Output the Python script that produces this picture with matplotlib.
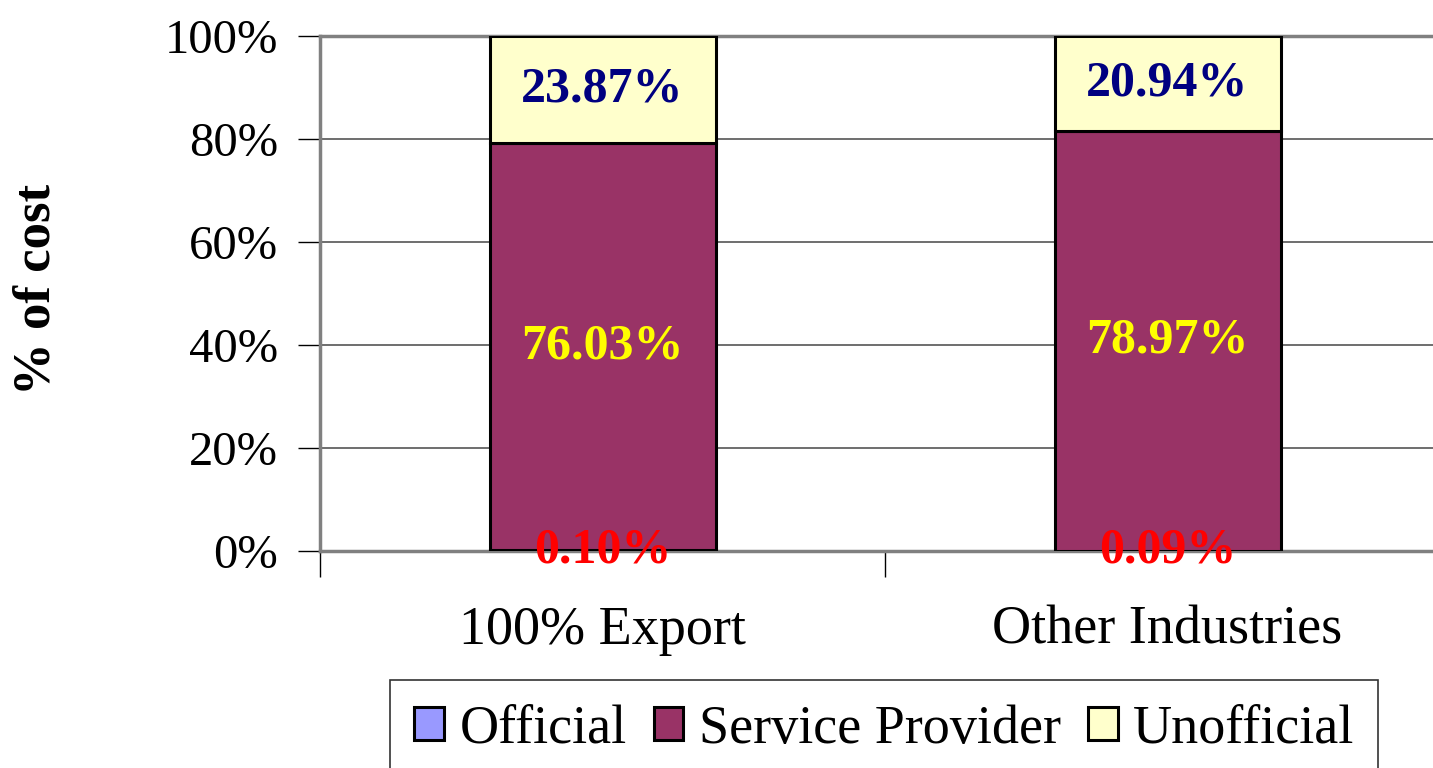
import matplotlib
matplotlib.use('Agg')
import matplotlib.pyplot as plt
import numpy as np

categories = ['100% Export', 'Other Industries']
series_names = ['Official', 'Service Provider', 'Unofficial']

# segment heights as drawn in the chart (percent)
official = [0.10, 0.09]
service = [79.1, 81.4]
unofficial = [20.8, 18.5]

# values printed on the segments
official_lbl = [0.10, 0.09]
service_lbl = [76.03, 78.97]
unofficial_lbl = [23.87, 20.94]

colors = ['#9999FF', '#993366', '#FFFFCC']
label_colors = ['#FF0000', '#FFFF00', '#000080']

plt.rcParams['font.family'] = ['Liberation Serif', 'DejaVu Serif']

fig = plt.figure(figsize=(14.33, 7.68), dpi=100)
ax = fig.add_axes([320 / 1433, 1 - 551 / 768, 1130 / 1433, 515 / 768])

x = np.arange(len(categories))
w = 0.40
bottom = np.zeros(len(categories))
series = [official, service, unofficial]
labels = [official_lbl, service_lbl, unofficial_lbl]
for vals, lbls, name, c, lc in zip(series, labels, series_names, colors, label_colors):
    vals = np.array(vals)
    ax.bar(x, vals, w, bottom=bottom, color=c, edgecolor='black', linewidth=2.2,
           label=name, zorder=3)
    for xi, b, v, l in zip(x, bottom, vals, lbls):
        ax.text(xi, b + v / 2, f'{l:.2f}%', ha='center', va='center', color=lc,
                fontsize=36, fontweight='bold', zorder=4)
    bottom = bottom + vals

ax.set_xlim(-0.5, 1.5)
ax.set_ylim(0, 100)
ax.set_yticks(np.arange(0, 101, 20))
ax.set_yticklabels([f'{v}%' for v in range(0, 101, 20)], fontsize=35)
ax.set_xticks([-0.5, 0.5, 1.5])
ax.set_xticklabels([])
ax.set_xticks(x, minor=True)
ax.set_xticklabels(categories, minor=True, fontsize=39)
ax.tick_params(axis='x', which='minor', length=0, pad=39)
ax.tick_params(axis='x', which='major', length=19, width=1, color='black')
ax.tick_params(axis='y', length=16, width=1, pad=14, color='black')

ax.grid(axis='y', color='#555555', linewidth=1.2, zorder=0)
for s in ['left', 'bottom', 'top']:
    ax.spines[s].set_color('#808080')
    ax.spines[s].set_linewidth(2.5)
ax.spines['right'].set_visible(False)

ax.set_ylabel('% of cost', fontsize=38, fontweight='bold', va='center')
ax.yaxis.set_label_coords(-283 / 1130, 0.507)

leg = fig.legend(loc='upper left', bbox_to_anchor=(390 / 1433, 1 - 680 / 768),
                 ncol=3, fontsize=39, frameon=True, fancybox=False,
                 edgecolor='black', handlelength=0.55, handleheight=0.55,
                 handletextpad=0.28, columnspacing=0.5, borderpad=0.45,
                 borderaxespad=0)
leg.get_frame().set_linewidth(1.2)

fig.savefig('out.png', dpi=100)
